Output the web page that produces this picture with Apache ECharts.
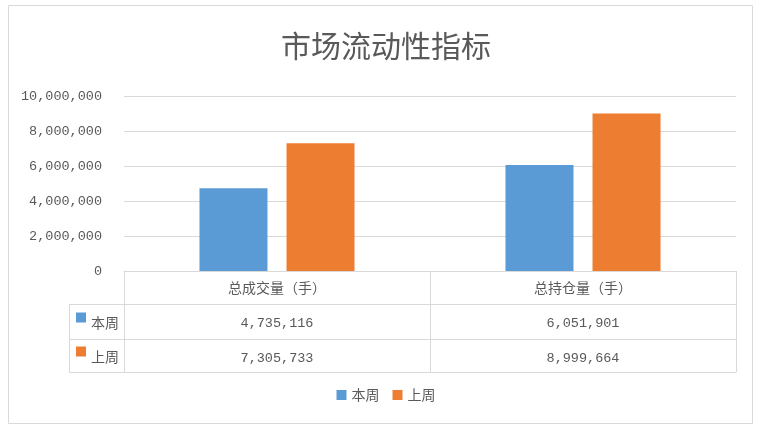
<!DOCTYPE html>
<html><head><meta charset="utf-8">
<script src="https://cdn.jsdelivr.net/npm/echarts@6/dist/echarts.min.js"></script>
<style>html,body{margin:0;padding:0;background:#fff}#c{width:772px;height:432px}</style>
</head><body><div id="c"></div>
<script>
const title = '市场流动性指标';
const categories = ['总成交量（手）', '总持仓量（手）'];
const seriesNames = ['本周', '上周'];
const thisWeek = [4735116, 6051901];
const lastWeek = [7305733, 8999664];
const yTicks = { min: 0, max: 10000000, interval: 2000000 };

const colors = ['#5B9BD5', '#ED7D31'];
const txt = '#595959';
const line = '#d9d9d9';
const font = '"Noto Sans CJK SC", "Noto Sans", sans-serif';
const mono = '"Liberation Mono", "DejaVu Sans Mono", monospace';
const G = { left: 124, right: 36, top: 96, bottom: 161 };
const axisY = 432 - G.bottom;
const rowH = [33, 35, 33];
const fmt = v => Number(v).toLocaleString('en-US');

const chart = echarts.init(document.getElementById('c'));
const row1 = axisY + rowH[0], row2 = row1 + rowH[1], row3 = row2 + rowH[2];
const tableLeft = 69;

const graphic = [
  { type: 'rect', shape: { x: 8.5, y: 5.5, width: 744, height: 418 }, style: { fill: 'none', stroke: line, lineWidth: 1 }, silent: true },
  { type: 'line', shape: { x1: tableLeft, y1: row1 + 0.5, x2: G.left, y2: row1 + 0.5 }, style: { stroke: line, lineWidth: 1 } },
  { type: 'line', shape: { x1: tableLeft, y1: row2 + 0.5, x2: G.left, y2: row2 + 0.5 }, style: { stroke: line, lineWidth: 1 } },
  { type: 'line', shape: { x1: tableLeft, y1: row3 + 0.5, x2: G.left, y2: row3 + 0.5 }, style: { stroke: line, lineWidth: 1 } },
  { type: 'line', shape: { x1: tableLeft + 0.5, y1: row1, x2: tableLeft + 0.5, y2: row3 }, style: { stroke: line, lineWidth: 1 } },
  { type: 'line', shape: { x1: G.left + 0.5, y1: axisY, x2: G.left + 0.5, y2: row3 }, style: { stroke: line, lineWidth: 1 } }
];
seriesNames.forEach((n, i) => {
  const top = i === 0 ? row1 : row2;
  const mid = top + (i === 0 ? rowH[1] : rowH[2]) / 2;
  graphic.push({ type: 'rect', shape: { x: 76, y: mid - 9, width: 10, height: 10 }, style: { fill: colors[i] } });
  graphic.push({ type: 'text', x: 91, y: mid + 1, style: { text: n, fill: txt, font: '14px ' + font, textVerticalAlign: 'middle' } });
});

const tableAxis = (offset, labels) => ({
  type: 'category', data: categories, position: 'bottom', offset: offset,
  axisLine: { show: true, lineStyle: { color: line } },
  axisTick: { show: false },
  axisLabel: { show: !!labels, color: txt, fontSize: 13.5, fontFamily: mono, margin: 12,
    formatter: (v, i) => labels ? fmt(labels[i]) : '' }
});

chart.setOption({
  animation: false,
  title: { text: title, left: 'center', top: 26, textStyle: { color: txt, fontSize: 30, fontWeight: 'normal', fontFamily: font } },
  legend: { bottom: 25, left: 'center', icon: 'rect', itemWidth: 10, itemHeight: 10, itemGap: 13,
    textStyle: { color: txt, fontSize: 14, fontFamily: font, padding: [0, 0, 0, 0] }, data: seriesNames },
  grid: G,
  xAxis: [
    { type: 'category', data: categories, position: 'bottom',
      axisLine: { show: true, lineStyle: { color: line } },
      axisTick: { show: true, alignWithLabel: false, length: row3 - axisY, lineStyle: { color: line } },
      axisLabel: { color: txt, fontSize: 14, fontFamily: font, margin: 10 } },
    tableAxis(rowH[0], thisWeek),
    tableAxis(rowH[0] + rowH[1], lastWeek),
    tableAxis(rowH[0] + rowH[1] + rowH[2], null)
  ],
  yAxis: { type: 'value', min: yTicks.min, max: yTicks.max, interval: yTicks.interval,
    axisLine: { show: false }, axisTick: { show: false },
    splitLine: { lineStyle: { color: line } },
    axisLabel: { color: txt, fontSize: 13.5, fontFamily: mono, margin: 22, formatter: v => fmt(v) } },
  series: [
    { name: seriesNames[0], type: 'bar', data: thisWeek, barWidth: 68, barGap: '28%', itemStyle: { color: colors[0] } },
    { name: seriesNames[1], type: 'bar', data: lastWeek, barWidth: 68, barGap: '28%', itemStyle: { color: colors[1] } }
  ],
  graphic: graphic
});
</script></body></html>
